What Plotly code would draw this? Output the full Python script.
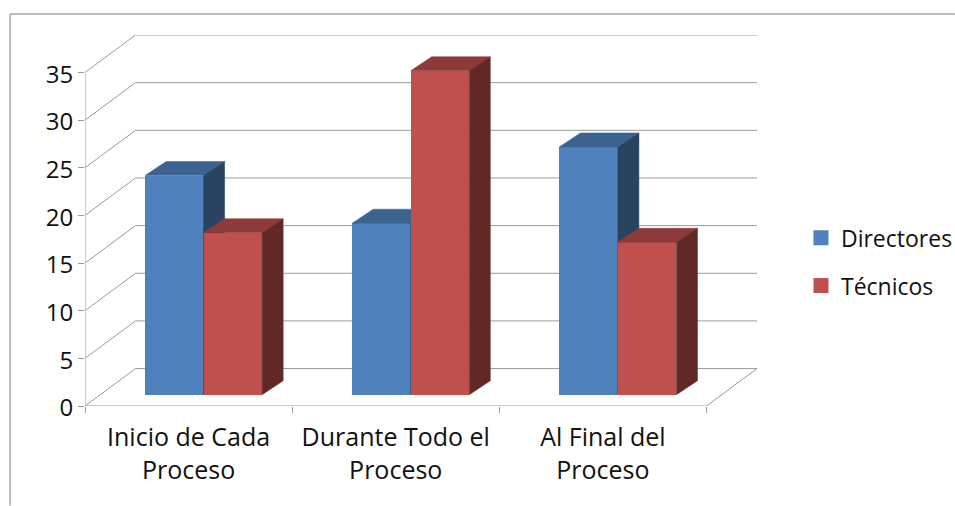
import plotly.graph_objects as go

categories = ["Inicio de Cada<br>Proceso", "Durante Todo el<br>Proceso", "Al Final del<br>Proceso"]
directores = [23, 18, 26]
tecnicos = [17, 34, 16]
y_ticks = [0, 5, 10, 15, 20, 25, 30, 35]
series_names = ["Directores", "Técnicos"]

# pixel geometry of the pseudo-3D projection
L, R, T, B = 84.5, 198, 34.5, 100
W, H = 955, 506
cat_px = 207.0
unit_px = 9.55
wall_dx = 50.5 / cat_px
wall_dy = 37.5 / unit_px
base_dx = 15 / cat_px
base_dy = 11.3 / unit_px
bar_dx = 21 / cat_px
bar_dy = 14 / unit_px
bar_w = 58.5 / cat_px
n = len(categories)
x_max = n + wall_dx
y_max = max(y_ticks) + wall_dy
plot_w = W - L - R
plot_h = H - T - B

GRID = "#9a9a9a"
BLUE = ("#4F81BD", "#3C6290", "#294461")
RED = ("#C0504D", "#8E3A38", "#612826")


def seg(x0, y0, x1, y1):
    return dict(type="line", x0=x0, y0=y0, x1=x1, y1=y1, xref="x", yref="y",
                layer="below", line=dict(color=GRID, width=1))


shapes = []
for v in y_ticks:
    shapes.append(seg(0, v, wall_dx, v + wall_dy))
    shapes.append(seg(wall_dx, v + wall_dy, x_max, v + wall_dy))
shapes.append(seg(n, 0, x_max, wall_dy))
# value axis and category axis lines
shapes.append(seg(0, 0, 0, max(y_ticks)))
shapes.append(seg(0, 0, n, 0))
# chart frame (left and top edges)
fx = (9.5 - L) / plot_w
fy = 1 + (T - 13.5) / plot_h
shapes.append(dict(type="line", x0=fx, x1=fx, y0=fy, y1=-(B / plot_h), xref="paper", yref="paper",
                   line=dict(color="#a6a6a6", width=1.5)))
shapes.append(dict(type="line", x0=fx, x1=(W - L) / plot_w, y0=fy, y1=fy, xref="paper", yref="paper",
                   line=dict(color="#a6a6a6", width=1.5)))

fig = go.Figure()


def add_series(values, name, colors, side, xa, ya):
    xs = [i + 0.5 + base_dx + side * bar_w / 2 for i in range(n)]
    fig.add_trace(go.Bar(x=xs, y=values, base=[base_dy] * n, width=bar_w, name=name,
                         marker=dict(color=colors[0], line=dict(width=0)),
                         showlegend=False, xaxis=xa, yaxis=ya))
    for x, v in zip(xs, values):
        l, r = x - bar_w / 2, x + bar_w / 2
        top = base_dy + v
        fig.add_trace(go.Scatter(
            x=[l, l + bar_dx, r + bar_dx, r, l],
            y=[top, top + bar_dy, top + bar_dy, top, top],
            mode="lines", fill="toself", fillcolor=colors[1], line=dict(color=colors[1], width=0.5),
            hoverinfo="skip", showlegend=False, xaxis=xa, yaxis=ya))
        fig.add_trace(go.Scatter(
            x=[r, r + bar_dx, r + bar_dx, r, r],
            y=[top, top + bar_dy, base_dy + bar_dy, base_dy, top],
            mode="lines", fill="toself", fillcolor=colors[2], line=dict(color=colors[2], width=0.5),
            hoverinfo="skip", showlegend=False, xaxis=xa, yaxis=ya))
    # legend swatch
    fig.add_trace(go.Scatter(x=[None], y=[None], mode="markers", name=name, legendgroup=name,
                             marker=dict(symbol="square", size=15, color=colors[0]),
                             xaxis=xa, yaxis=ya))


add_series(directores, series_names[0], BLUE, -1, "x", "y")
add_series(tecnicos, series_names[1], RED, 1, "x2", "y2")

TXT = "#111111"
fig.update_layout(
    width=W, height=H, autosize=False,
    margin=dict(l=L, r=R, t=T, b=B, pad=0, autoexpand=False),
    paper_bgcolor="white", plot_bgcolor="rgba(0,0,0,0)",
    bargap=0, barmode="overlay",
    shapes=shapes,
    font=dict(family="Open Sans", size=24, color=TXT),
    legend=dict(x=(809 - L) / plot_w, y=1 - (216 - T) / plot_h, xanchor="left", yanchor="top",
                font=dict(family="Open Sans", size=23, color=TXT), tracegroupgap=15,
                indentation=-8, borderwidth=0, bgcolor="rgba(0,0,0,0)", itemsizing="trace"),
    xaxis=dict(range=[0, x_max], tickmode="array", tickvals=[i + 0.5 for i in range(n)],
               ticktext=categories, ticks="", showgrid=False, zeroline=False, showline=False,
               automargin=False,
               tickfont=dict(family="Open Sans", size=25, color=TXT), ticklabelstandoff=14,
               minor=dict(tickmode="array", tickvals=list(range(n + 1)), ticks="outside",
                          ticklen=6, tickcolor=GRID, tickwidth=1, showgrid=False)),
    yaxis=dict(range=[0, y_max], tickmode="array", tickvals=y_ticks, ticks="outside", ticklen=6,
               tickcolor=GRID, tickwidth=1, showgrid=False, zeroline=False, showline=False,
               automargin=False, ticklabelshift=2,
               tickfont=dict(family="Open Sans", size=24, color=TXT)),
    xaxis2=dict(range=[0, x_max], overlaying="x", visible=False),
    yaxis2=dict(range=[0, y_max], overlaying="y", visible=False),
)

fig.write_html("out.html", config=dict(displayModeBar=False),
               default_width=W, default_height=H,
               post_script="document.body.style.margin='0';document.documentElement.style.overflow='hidden';")
